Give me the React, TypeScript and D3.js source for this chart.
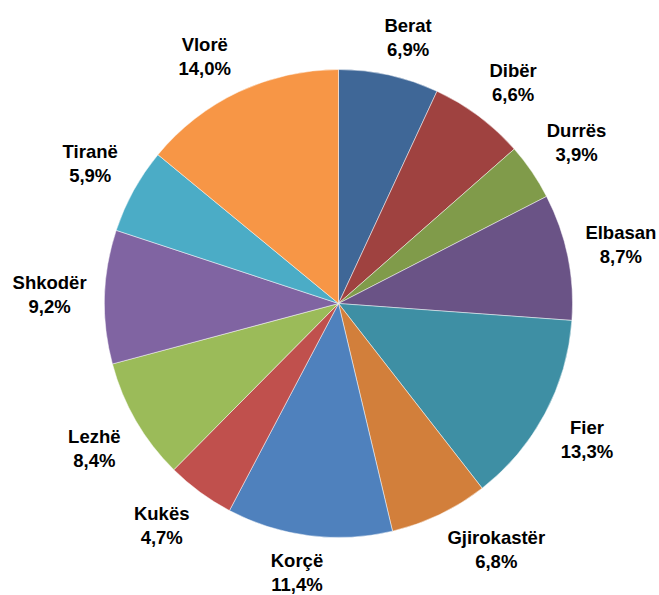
import React from "react";
import * as d3 from "d3";

const categories = ["Berat", "Dibër", "Durrës", "Elbasan", "Fier", "Gjirokastër", "Korçë", "Kukës", "Lezhë", "Shkodër", "Tiranë", "Vlorë"];
const values = [6.9, 6.6, 3.9, 8.7, 13.3, 6.8, 11.4, 4.7, 8.4, 9.2, 5.9, 14.0];
const colors = ["#3F6797", "#9F4240", "#809B4A", "#6A5386", "#3E8FA4", "#D27F3B", "#4F81BD", "#C0504D", "#9BBB59", "#8064A2", "#4BACC6", "#F79646"];

const W = 659;
const H = 595;
const CX = 338.5;
const CY = 303.5;
const R = 234;
const FONT = "bold 18.5px 'Liberation Sans', Arial, sans-serif";

let ctx: CanvasRenderingContext2D | null = null;
function textWidth(s: string): number {
  if (!ctx) {
    const c = document.createElement("canvas");
    ctx = c.getContext("2d");
  }
  if (!ctx) return s.length * 10;
  ctx.font = FONT;
  return ctx.measureText(s).width;
}

const fmt = (v: number) => v.toFixed(1).replace(".", ",") + "%";

export default function App() {
  const pie = d3.pie<number>().sort(null).value((d) => d);
  const arcs = pie(values);
  const arcGen = d3.arc<d3.PieArcDatum<number>>().innerRadius(0).outerRadius(R);
  const clamp = (v: number) => Math.max(-1, Math.min(1, v));
  const RL = 252;
  const kx = 3;
  const ky = 2;
  const boxH = 38;

  return (
    <svg width={W} height={H} style={{ position: "absolute", left: 0, top: 0, background: "#fff" }}>
      <g transform={`translate(${CX},${CY})`}>
        {arcs.map((a, i) => (
          <path key={i} d={arcGen(a) || ""} fill={colors[i]} stroke="#ffffff" strokeWidth={0.6} strokeOpacity={0.8} />
        ))}
        {arcs.map((a, i) => {
          const th = (a.startAngle + a.endAngle) / 2;
          const ux = Math.sin(th);
          const uy = -Math.cos(th);
          const l1 = categories[i];
          const l2 = fmt(values[i]);
          const w = Math.max(textWidth(l1), textWidth(l2));
          const cx = RL * ux + (w / 2) * clamp(ux * kx);
          const cy = RL * uy + (boxH / 2) * clamp(uy * ky);
          return (
            <text key={"t" + i} textAnchor="middle" style={{ font: FONT }} fill="#000">
              <tspan x={cx} y={cy - 6}>{l1}</tspan>
              <tspan x={cx} y={cy + 18}>{l2}</tspan>
            </text>
          );
        })}
      </g>
    </svg>
  );
}
